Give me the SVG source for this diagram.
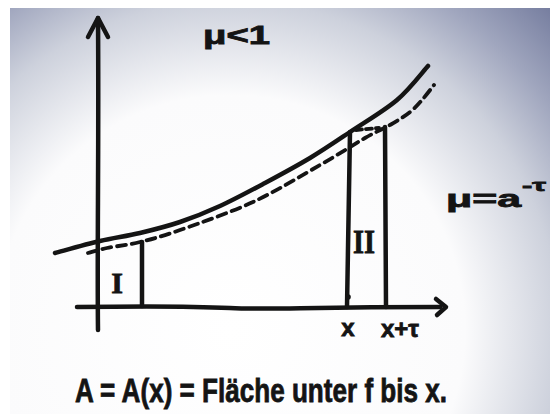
<svg xmlns="http://www.w3.org/2000/svg" width="550" height="414" viewBox="0 0 550 414">
<defs>
<radialGradient id="paper" gradientUnits="userSpaceOnUse" cx="230" cy="330" r="470">
<stop offset="0" stop-color="#ffffff"/>
<stop offset="0.5" stop-color="#fbfbfc"/>
<stop offset="0.7" stop-color="#cdd1dc"/>
<stop offset="0.83" stop-color="#a0a6be"/>
<stop offset="1" stop-color="#6c7498"/>
</radialGradient>
<style>
.ink{fill:none;stroke:#141414;stroke-width:4.5;stroke-linecap:round;stroke-linejoin:round}
.dash{fill:none;stroke:#141414;stroke-width:3.8;stroke-linecap:round;stroke-dasharray:9 6}
.lbl{font-family:"Liberation Sans","DejaVu Sans",sans-serif;font-weight:bold;fill:#141414;stroke:#141414;stroke-width:0.8}
.roman{font-family:"Liberation Serif","DejaVu Serif",serif;font-weight:bold;fill:#141414;stroke:#141414;stroke-width:0.8}
</style>
</defs>
<rect x="0" y="0" width="550" height="414" fill="#ffffff"/>
<rect x="10" y="8" width="540" height="406" fill="url(#paper)"/>

<g id="connectors">
<path id="y-axis" class="ink" d="M98,330 C97,250 99,150 98,18"/>
<polyline class="ink" points="88,37 98,18 108,37"/>
<path id="x-axis" class="ink" d="M77,307 C140,306 190,306 230,308 C270,310 300,307 440,307"/>
<polyline class="ink" points="436,299 446,307 437,315"/>
<path id="curve-f" class="ink" d="M55,253 C62.5,251 85.8,244.3 100,241 C114.2,237.7 126.7,236.2 140,233 C153.3,229.8 166.7,226.5 180,222 C193.3,217.5 205.8,212.5 220,206 C234.2,199.5 250,191 265,183 C280,175 295.8,166.5 310,158 C324.2,149.5 335.5,141.7 350,132 C364.5,122.3 384,111 397,100 C410,89 422.8,71.7 428,66"/>
<path id="curve-mu-f" class="dash" d="M88,253 C91.2,252.2 98.3,249.8 107,248 C115.7,246.2 127.8,245 140,242 C152.2,239 161.2,236.7 180,230 C198.8,223.3 229.7,212.8 253,202 C276.3,191.2 301.3,175.7 320,165 C338.7,154.3 353.3,144.7 365,138 C376.7,131.3 382.5,129.3 390,125 C397.5,120.7 404.7,116.2 410,112 C415.3,107.8 418,104.5 422,100 C426,95.5 432,87.5 434,85"/>
<line class="ink" x1="142" y1="242" x2="142" y2="306"/>
<line class="ink" x1="350" y1="132" x2="347" y2="307"/>
<circle cx="348" cy="297" r="2.8" fill="#141414"/>
<line class="ink" x1="385" y1="127" x2="386" y2="307"/>
<line class="dash" x1="356" y1="130" x2="379" y2="128" style="stroke-dasharray:6 4"/>
</g>

<g id="label-mu-lt-1"><text class="lbl" x="203" y="44" font-size="25" textLength="67" lengthAdjust="spacingAndGlyphs">μ&lt;1</text></g>
<g id="label-mu-eq"><text class="lbl" x="446" y="207" font-size="24" textLength="75" lengthAdjust="spacingAndGlyphs">μ=a</text><text class="lbl" x="522" y="191" font-size="17" textLength="24" lengthAdjust="spacingAndGlyphs">-τ</text></g>
<g id="label-I"><text class="roman" x="117" y="293" font-size="30" text-anchor="middle">I</text></g>
<g id="label-II"><text class="roman" x="353" y="253" font-size="34" textLength="22" lengthAdjust="spacingAndGlyphs">II</text></g>
<g id="label-x"><text class="lbl" x="348" y="336" font-size="24" text-anchor="middle">x</text></g>
<g id="label-x-tau"><text class="lbl" x="381" y="337" font-size="24" textLength="38" lengthAdjust="spacingAndGlyphs">x+τ</text></g>
<g id="caption"><text class="lbl" x="75" y="402" font-size="33" textLength="372" lengthAdjust="spacingAndGlyphs">A = A(x) = Fläche unter f bis x.</text></g>
</svg>
